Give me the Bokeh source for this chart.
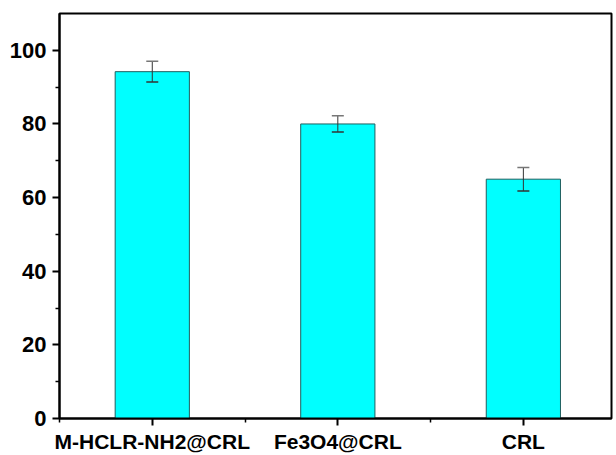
from bokeh.plotting import figure
from bokeh.models import ColumnDataSource, Whisker, FixedTicker, Range1d, TeeHead
from bokeh.embed import file_html
from bokeh.resources import INLINE

categories = ["M-HCLR-NH2@CRL", "Fe3O4@CRL", "CRL"]
positions = [1, 2, 3]
values = [94.2, 80.0, 65.0]
errors = [2.8, 2.2, 3.2]

upper = [v + e for v, e in zip(values, errors)]
lower = [v - e for v, e in zip(values, errors)]
src = ColumnDataSource(dict(x=positions, top=values, upper=upper, lower=lower))

p = figure(width=616, height=455, output_backend="svg", toolbar_location=None,
           x_range=Range1d(0.5, 3.475), y_range=Range1d(0, 110),
           min_border_left=59, min_border_right=5, min_border_top=13, min_border_bottom=35)

p.vbar(x="x", top="top", width=0.4, bottom=0, source=src,
       fill_color="#00FFFF", line_color="#1F5F5F", line_width=1)

w = Whisker(base="x", upper="upper", lower="lower", source=src, level="overlay",
            line_color="#333333", line_width=1,
            upper_head=TeeHead(size=12, line_color="#777777", line_width=1.5),
            lower_head=TeeHead(size=12, line_color="#333333", line_width=1.5))
p.add_layout(w)

p.grid.visible = False
p.outline_line_color = "black"
p.outline_line_width = 2

xa = p.xaxis[0]
xa.ticker = FixedTicker(ticks=positions, minor_ticks=[0.5, 1.5, 2.5, 3.5])
xa.major_label_overrides = {pos: c for pos, c in zip(positions, categories)}
ya = p.yaxis[0]
ya.ticker = FixedTicker(ticks=[0, 20, 40, 60, 80, 100], minor_ticks=[10, 30, 50, 70, 90])

for ax in (xa, ya):
    ax.axis_line_width = 2
    ax.axis_line_color = "black"
    ax.major_tick_in = 0
    ax.major_tick_out = 7
    ax.minor_tick_in = 0
    ax.minor_tick_out = 4
    ax.major_tick_line_width = 2
    ax.minor_tick_line_width = 1.5
    ax.major_label_text_font = "Liberation Sans"
    ax.major_label_text_font_style = "bold"
    ax.major_label_text_color = "black"

xa.major_label_text_font_size = "21px"
xa.major_label_standoff = 4
ya.major_label_text_font_size = "22px"
ya.major_label_standoff = 6

open("out.html", "w").write(file_html(p, INLINE))
